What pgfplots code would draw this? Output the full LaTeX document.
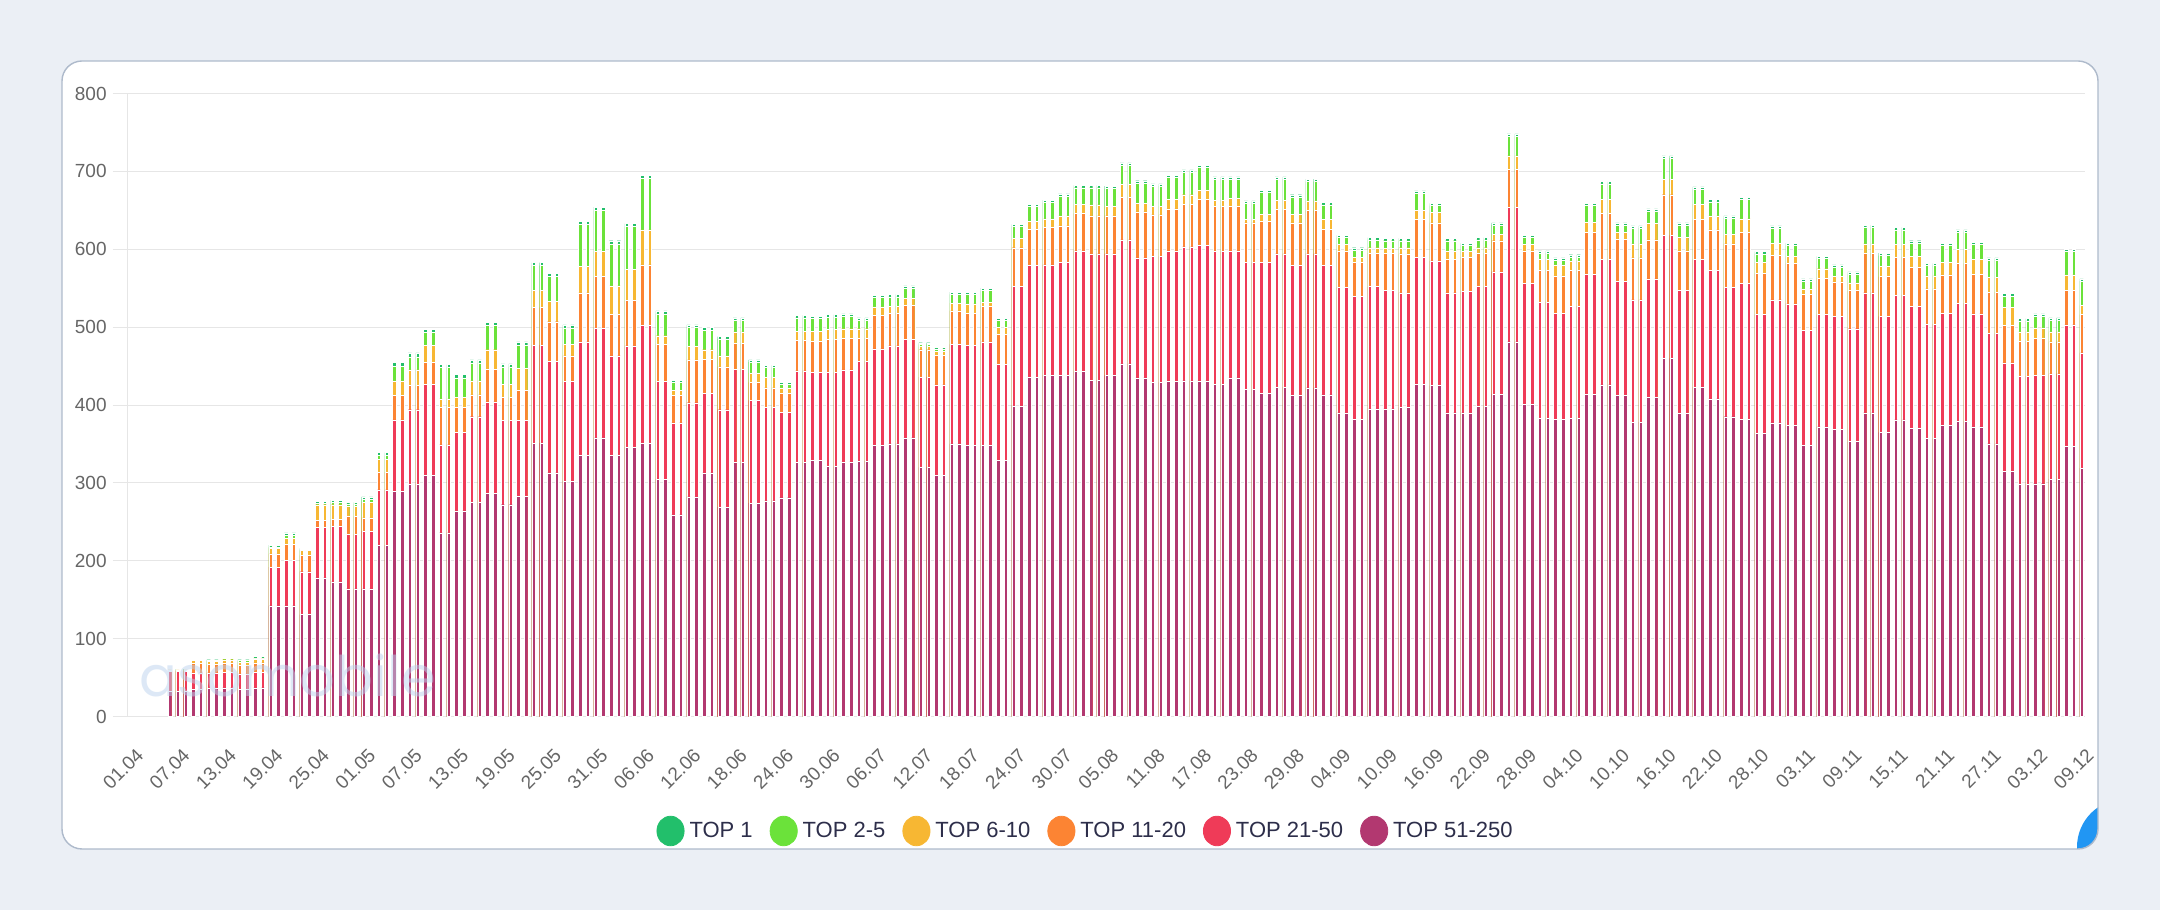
\documentclass[border=0pt]{standalone}
\usepackage{fontspec}
\setmainfont{Liberation Sans}
\newfontfamily\wmfont{Poppins}
\usepackage{pgfplots}
\usepackage{pgfplotstable}
\pgfplotsset{compat=1.18}
\definecolor{cT1}{HTML}{22BF6B}
\definecolor{cT2}{HTML}{6BE23A}
\definecolor{cT6}{HTML}{F7B733}
\definecolor{cT11}{HTML}{FC8433}
\definecolor{cT21}{HTML}{EF3B58}
\definecolor{cT51}{HTML}{B23870}
\definecolor{pagebg}{HTML}{EBEFF5}
\definecolor{cardborder}{HTML}{AEBACB}
\definecolor{gridc}{HTML}{E6E6E6}
\definecolor{tickc}{HTML}{666666}
\definecolor{legc}{HTML}{2D2E4A}
\definecolor{wm}{HTML}{BCD3EE}
\definecolor{chatblue}{HTML}{2196F3}
% cumulative tops of each stack: P = TOP 51-250, R = +21-50, O = +11-20, Y = +6-10, G = +2-5, T = +1
\pgfplotstableread{
d P R O Y G T
5 32 58 59 60 60.5 61
6 32 58 59 60 60.5 61
7 32 58 59 60 60.5 61
8 35 56 68 72 73.5 75
9 35 56 68 72 73.5 75
10 36 56 67 71 72 73
11 36 56 67 71 72 73
12 37 57 69 73 74.5 76
13 37 57 69 73 74.5 76
14 35 55 66 70 72 73
15 35 55 66 70 72 73
16 37 57 69 74 75.5 77
17 37 57 69 74 75.5 77
18 142 192 209 216 218 220
19 142 192 209 216 218 220
20 142 201 221 229 233 236
21 142 201 221 229 233 236
22 131 186 207 213 214.5 216
23 131 186 207 213 214.5 216
24 178 243 252 272 274 276
25 178 243 252 272 274 276
26 173 244 253 272 275 278
27 173 244 253 272 275 278
28 164 234 257 270 273 275
29 164 234 257 270 273 275
30 164 238 255 275 279 282
31 164 238 255 275 279 282
32 220 291 314 330 335 339
33 220 291 314 330 335 339
34 289 381 412 431 450 455
35 289 381 412 431 450 455
36 298 394 425 445 462 467
37 298 394 425 445 462 467
38 310 427 455 477 493 497
39 310 427 455 477 493 497
40 236 349 397 408 448 452
41 236 349 397 408 448 452
42 264 365 397 410 435 439
43 264 365 397 410 435 439
44 275 385 413 431 454 458
45 275 385 413 431 454 458
46 287 404 446 471 502 506
47 287 404 446 471 502 506
48 272 380 410 427 449 453
49 272 380 410 427 449 453
50 283 380 419 447 477 481
51 283 380 419 447 477 481
52 351 477 525 547 579 583
53 351 477 525 547 579 583
54 313 456 507 533 565 569
55 313 456 507 533 565 569
56 302 430 463 478 499 503
57 302 430 463 478 499 503
58 335 481 544 578 632 636
59 335 481 544 578 632 636
60 358 499 565 597 650 654
61 358 499 565 597 650 654
62 335 463 516 553 607 611
63 335 463 516 553 607 611
64 346 476 534 574 629 633
65 346 476 534 574 629 633
66 351 502 580 625 691 695
67 351 502 580 625 691 695
68 305 430 478 489 517 521
69 305 430 478 489 517 521
70 259 377 412 419 429 432
71 259 377 412 419 429 432
72 282 403 458 475 500 503
73 282 403 458 475 500 503
74 313 415 459 471 496 500
75 313 415 459 471 496 500
76 269 394 449 463 485 488
77 269 394 449 463 485 488
78 326 446 479 494 509 512
79 326 446 479 494 509 512
80 274 406 429 441 455 458
81 274 406 429 441 455 458
82 277 397 422 436 448 451
83 277 397 422 436 448 451
84 281 391 415 422 427 429
85 281 391 415 422 427 429
86 326 444 483 495 512 515
87 326 444 483 495 512 515
88 329 442 482 495 511 514
89 329 442 482 495 511 514
90 321 442 484 497 513 516
91 321 442 484 497 513 516
92 327 445 486 498 514 517
93 327 445 486 498 514 517
94 328 456 486 498 509 512
95 328 456 486 498 509 512
96 348 472 515 526 538 541
97 348 472 515 526 538 541
98 350 476 518 527 539 542
99 350 476 518 527 539 542
100 358 484 528 537 550 553
101 358 484 528 537 550 553
102 320 436 471 475 478 480
103 320 436 471 475 478 480
104 310 426 464 469 472 474
105 310 426 464 469 472 474
106 350 478 521 531 542 545
107 350 478 521 531 542 545
108 348 477 518 530 542 545
109 348 477 518 530 542 545
110 348 481 527 532 547 550
111 348 481 527 532 547 550
112 329 452 491 500 509 511
113 329 452 491 500 509 511
114 399 552 602 614 629 632
115 399 552 602 614 629 632
116 436 579 626 636 655 658
117 436 579 626 636 655 658
118 438 580 628 639 660 663
119 438 580 628 639 660 663
120 438 583 630 643 668 671
121 438 583 630 643 668 671
122 443 598 646 658 679 682
123 443 598 646 658 679 682
124 432 594 643 657 679 682
125 432 594 643 657 679 682
126 438 594 643 655 678 681
127 438 594 643 655 678 681
128 453 612 667 683 708 711
129 453 612 667 683 708 711
130 435 589 648 659 685 688
131 435 589 648 659 685 688
132 429 591 644 655 681 684
133 429 591 644 655 681 684
134 430 598 652 664 692 695
135 430 598 652 664 692 695
136 431 603 658 670 699 702
137 431 603 658 670 699 702
138 431 605 664 676 705 708
139 431 605 664 676 705 708
140 427 597 655 663 690 693
141 427 597 655 663 690 693
142 435 598 655 665 690 693
143 435 598 655 665 690 693
144 420 583 634 638 659 662
145 420 583 634 638 659 662
146 415 583 636 645 673 676
147 415 583 636 645 673 676
148 423 594 651 663 690 693
149 423 594 651 663 690 693
150 412 579 634 645 667 670
151 412 579 634 645 667 670
152 422 594 650 662 687 690
153 422 594 650 662 687 690
154 413 579 626 638 657 660
155 413 579 626 638 657 660
156 390 551 598 606 615 618
157 390 551 598 606 615 618
158 382 540 583 590 599 602
159 382 540 583 590 599 602
160 395 552 595 602 612 615
161 395 552 595 602 612 615
162 395 547 595 601 611 614
163 395 547 595 601 611 614
164 397 544 594 602 611 614
165 397 544 594 602 611 614
166 427 590 638 650 672 675
167 427 590 638 650 672 675
168 425 585 634 647 656 659
169 425 585 634 647 656 659
170 390 544 587 598 611 614
171 390 544 587 598 611 614
172 390 546 590 597 605 608
173 390 546 590 597 605 608
174 398 552 595 602 612 615
175 398 552 595 602 612 615
176 414 571 611 619 631 634
177 414 571 611 619 631 634
178 481 654 703 720 745 748
179 481 654 703 720 745 748
180 401 556 598 606 615 618
181 401 556 598 606 615 618
182 383 532 573 587 595 598
183 383 532 573 587 595 598
184 382 518 566 580 586 589
185 382 518 566 580 586 589
186 383 527 573 585 590 593
187 383 527 573 585 590 593
188 414 568 622 635 656 659
189 414 568 622 635 656 659
190 426 587 646 664 684 687
191 426 587 646 664 684 687
192 412 559 613 622 631 634
193 412 559 613 622 631 634
194 378 535 589 607 627 630
195 378 535 589 607 627 630
196 410 562 612 633 649 652
197 410 562 612 633 649 652
198 460 618 670 690 717 720
199 460 618 670 690 717 720
200 389 547 598 615 631 634
201 389 547 598 615 631 634
202 423 587 638 658 677 680
203 423 587 638 658 677 680
204 408 573 625 643 661 664
205 408 573 625 643 661 664
206 385 551 607 619 640 643
207 385 551 607 619 640 643
208 382 556 622 639 664 667
209 382 556 622 639 664 667
210 364 516 569 583 594 597
211 364 516 569 583 594 597
212 377 535 592 608 627 630
213 377 535 592 608 627 630
214 374 530 582 591 605 608
215 374 530 582 591 605 608
216 348 496 542 549 559 562
217 348 496 542 549 559 562
218 372 516 563 575 588 591
219 372 516 563 575 588 591
220 369 514 558 565 577 580
221 369 514 558 565 577 580
222 353 498 547 557 568 571
223 353 498 547 557 568 571
224 390 544 595 607 628 631
225 390 544 595 607 628 631
226 365 514 565 578 592 595
227 365 514 565 578 592 595
228 381 541 590 606 625 628
229 381 541 590 606 625 628
230 370 527 577 591 608 611
231 370 527 577 591 608 611
232 357 504 549 566 579 582
233 357 504 549 566 579 582
234 374 518 567 583 605 608
235 374 518 567 583 605 608
236 379 531 582 600 622 625
237 379 531 582 600 622 625
238 372 517 568 587 606 609
239 372 517 568 587 606 609
240 350 492 545 564 586 589
241 350 492 545 564 586 589
242 315 454 502 525 540 543
243 315 454 502 525 540 543
244 298 437 482 494 508 511
245 298 437 482 494 508 511
246 299 438 486 499 514 517
247 299 438 486 499 514 517
248 305 440 481 494 509 512
249 305 440 481 494 509 512
250 347 503 547 567 597 600
251 347 503 547 567 597 600
252 319 467 516 528 559 562
}\bars

\begin{document}
\begin{tikzpicture}
\fill[pagebg] (0pt,0pt) rectangle (1080pt,455pt);
\path[use as bounding box] (0pt,0pt) rectangle (1080pt,455pt);
\fill[white, rounded corners=10pt] (31pt,30.5pt) rectangle (1049pt,424.5pt);
\begin{scope}
\clip[rounded corners=10pt] (31pt,30.5pt) rectangle (1049pt,424.5pt);
\fill[chatblue] (1062.5pt,31.5pt) circle (24pt);
\end{scope}
\draw[cardborder, line width=0.7pt, rounded corners=10pt] (31pt,30.5pt) rectangle (1049pt,424.5pt);
\begin{axis}[
  at={(56.5pt,96.7pt)}, anchor=south west,
  width=986pt, height=311.55pt, scale only axis,
  xmin=-2.36, xmax=252.43, ymin=0, ymax=800,
  ytick={0,100,...,800},
  xtick={0,6,...,252},
  xticklabels={01.04,07.04,13.04,19.04,25.04,01.05,07.05,13.05,19.05,25.05,31.05,06.06,12.06,18.06,24.06,30.06,06.07,12.07,18.07,24.07,30.07,05.08,11.08,17.08,23.08,29.08,04.09,10.09,16.09,22.09,28.09,04.10,10.10,16.10,22.10,28.10,03.11,09.11,15.11,21.11,27.11,03.12,09.12},
  ymajorgrids, grid style={draw=gridc, line width=0.5pt},
  axis line style={draw=none},
  tick style={draw=none},
  major tick length=0pt,
  /pgf/number format/assume math mode=true,
  tick label style={font=\fontsize{9.5}{11}\selectfont, text=tickc},
  yticklabel style={inner sep=0pt, anchor=east, xshift=-3pt},
  xticklabel style={inner sep=0pt, anchor=east, xshift=4.45pt, yshift=-17.6pt, rotate=45},
  legend style={at={(0.4937,-0.1836)}, anchor=center, draw=none, fill=none,
    legend columns=6, font=\fontsize{11}{12}\selectfont, text=legc,
    /tikz/every odd column/.append style={column sep=0.5pt},
    /tikz/every even column/.append style={column sep=6.5pt}},
]
\addplot[ybar, bar shift=0pt, bar width=0.45, fill=cT1, draw=white, line width=0.2pt, forget plot] table[x=d,y=T] {\bars};
\addplot[ybar, bar shift=0pt, bar width=0.45, fill=cT2, draw=white, line width=0.2pt, forget plot] table[x=d,y=G] {\bars};
\addplot[ybar, bar shift=0pt, bar width=0.45, fill=cT6, draw=white, line width=0.2pt, forget plot] table[x=d,y=Y] {\bars};
\addplot[ybar, bar shift=0pt, bar width=0.45, fill=cT11, draw=white, line width=0.2pt, forget plot] table[x=d,y=O] {\bars};
\addplot[ybar, bar shift=0pt, bar width=0.45, fill=cT21, draw=white, line width=0.2pt, forget plot] table[x=d,y=R] {\bars};
\addplot[ybar, bar shift=0pt, bar width=0.45, fill=cT51, draw=white, line width=0.2pt, forget plot] table[x=d,y=P] {\bars};
\draw[gridc, line width=0.5pt] (axis cs:-0.45,0) -- (axis cs:-0.45,800);
\addlegendimage{legend image code/.code={\fill[cT1] (6.8pt,0pt) ellipse [x radius=6.8pt, y radius=7.4pt];}}
\addlegendentry{TOP 1}
\addlegendimage{legend image code/.code={\fill[cT2] (6.8pt,0pt) ellipse [x radius=6.8pt, y radius=7.4pt];}}
\addlegendentry{TOP 2-5}
\addlegendimage{legend image code/.code={\fill[cT6] (6.8pt,0pt) ellipse [x radius=6.8pt, y radius=7.4pt];}}
\addlegendentry{TOP 6-10}
\addlegendimage{legend image code/.code={\fill[cT11] (6.8pt,0pt) ellipse [x radius=6.8pt, y radius=7.4pt];}}
\addlegendentry{TOP 11-20}
\addlegendimage{legend image code/.code={\fill[cT21] (6.8pt,0pt) ellipse [x radius=6.8pt, y radius=7.4pt];}}
\addlegendentry{TOP 21-50}
\addlegendimage{legend image code/.code={\fill[cT51] (6.8pt,0pt) ellipse [x radius=6.8pt, y radius=7.4pt];}}
\addlegendentry{TOP 51-250}
\end{axis}
\node[text=wm, opacity=0.5, font=\wmfont\fontsize{28}{28}\selectfont, anchor=base, inner sep=0pt] at (143.75pt,106.5pt) {asomobile};
\end{tikzpicture}
\end{document}
